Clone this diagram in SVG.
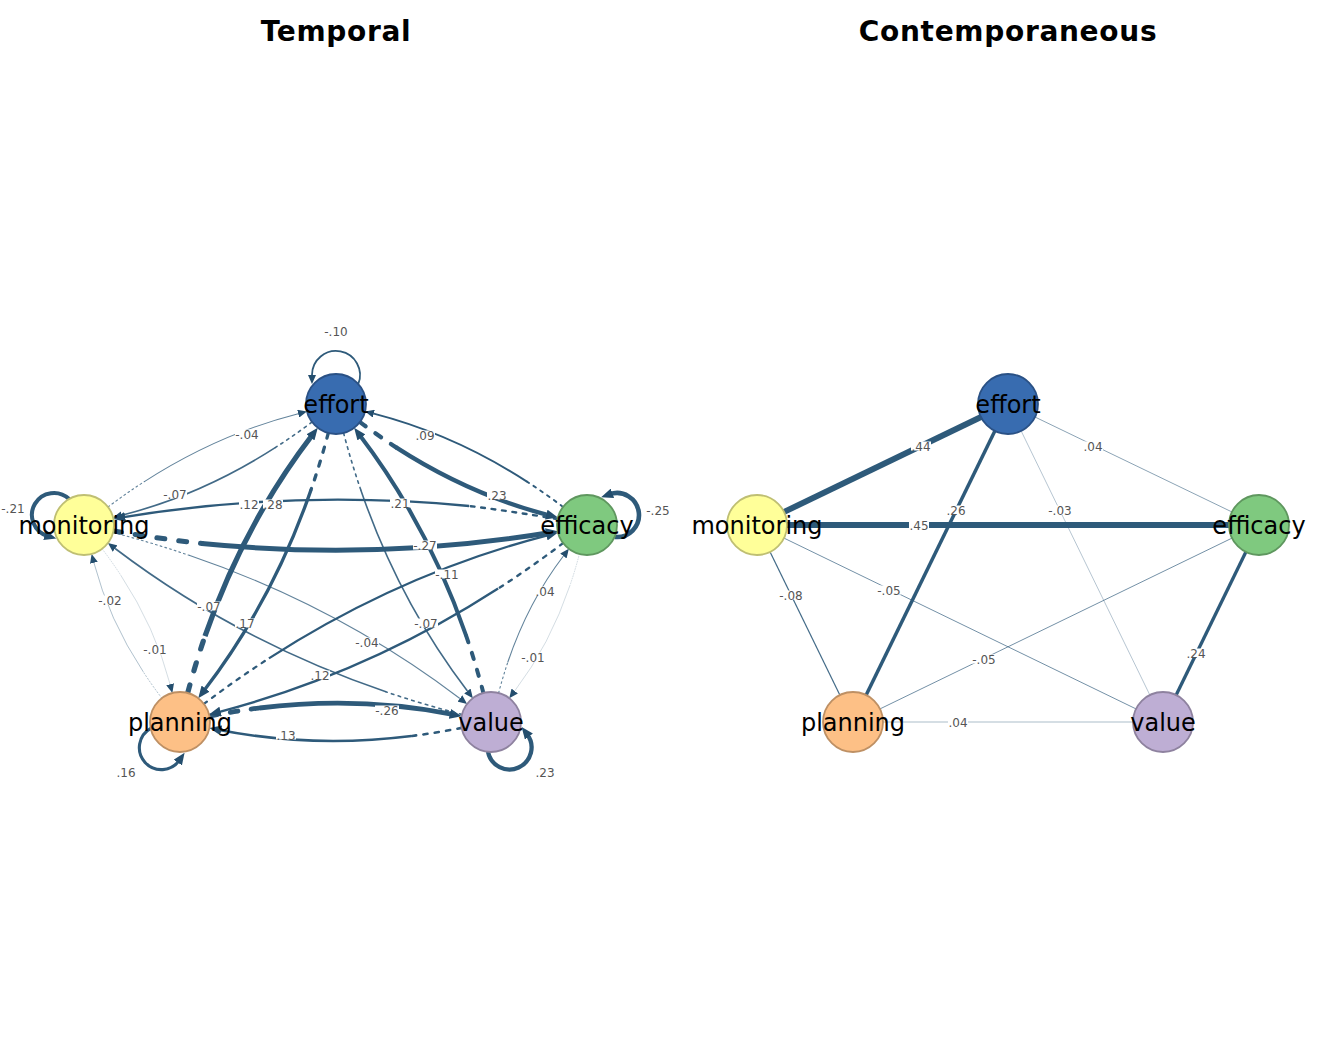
<svg xmlns="http://www.w3.org/2000/svg" width="1344" height="1056" viewBox="0 0 1344 1056">
<style>
.ttl{font-family:"DejaVu Sans",sans-serif;font-weight:bold;font-size:28px;letter-spacing:0.7px;text-anchor:middle;fill:#000}
.nl{font-family:"DejaVu Sans",sans-serif;font-size:24px;text-anchor:middle;fill:#000}
.lb{font-family:"DejaVu Sans",sans-serif;font-size:12px;text-anchor:middle;fill:#555}
.bg{fill:#fff}
.s{fill:none;stroke:#2E5A7A;stroke-linecap:butt}
.d{fill:none;stroke:#2E5A7A;stroke-linecap:round}
.u{stroke:#2E5A7A;fill:none}
.nd{stroke-width:1.8}
</style>
<defs>
<marker id="ah" markerUnits="userSpaceOnUse" markerWidth="12" markerHeight="10" viewBox="0 0 12 10" refX="3" refY="5" orient="auto"><path d="M0,0 L12,5 L0,10 z" fill="#244E6E"/></marker>
<marker id="as" markerUnits="userSpaceOnUse" markerWidth="9" markerHeight="8" viewBox="0 0 9 8" refX="0" refY="4" orient="auto"><path d="M0,0 L9,4 L0,8 z" fill="#244E6E"/></marker>
</defs>
<rect width="1344" height="1056" fill="#fff"/>
<text class="ttl" x="336" y="41">Temporal</text>
<text class="ttl" x="1008" y="41">Contemporaneous</text>

<g id="connectors">
<g id="e-mon-eff">
<path class="d" d="M108,507 Q126,493.4 144.4,481.6" stroke-width="1.1" stroke-opacity="0.75" stroke-dasharray="1.8 3.1"/>
<path class="s" d="M144.4,481.6 Q218,434.2 298.2,413.7" stroke-width="1.1" stroke-opacity="0.75" marker-end="url(#as)"/>
</g>
<g id="e-eff-mon">
<path class="d" d="M312,422 Q294,435.6 275.6,447.4" stroke-width="1.6" stroke-opacity="0.9" stroke-dasharray="2.6 4.5"/>
<path class="s" d="M275.6,447.4 Q202,494.8 121.8,515.3" stroke-width="1.6" stroke-opacity="0.9" marker-end="url(#as)"/>
</g>
<g id="e-efc-mon">
<path class="d" d="M557.6,519.1 Q513.2,511.5 469.1,506" stroke-width="2.4" stroke-dasharray="3.8 6.7"/>
<path class="s" d="M469.1,506 Q292.9,489 122.2,517.4" stroke-width="2.4" marker-end="url(#ah)"/>
</g>
<g id="e-mon-efc">
<path class="d" d="M113.4,530.9 Q157.8,538.5 201.9,543.5" stroke-width="5" stroke-dasharray="8 14"/>
<path class="s" d="M201.9,543.5 Q378.2,561 548.8,532.7" stroke-width="5" marker-end="url(#ah)"/>
</g>
<g id="e-efc-eff">
<path class="d" d="M563,506.9 Q545.2,493.4 526.9,481.6" stroke-width="1.9" stroke-dasharray="3 5.3"/>
<path class="s" d="M526.9,481.6 Q453.6,434.3 373.8,413.7" stroke-width="1.9" marker-end="url(#as)"/>
</g>
<g id="e-eff-efc">
<path class="d" d="M360,422.1 Q377.9,435.6 396.1,447.4" stroke-width="4.3" stroke-dasharray="6.9 12"/>
<path class="s" d="M396.1,447.4 Q469.4,494.7 549.2,515.3" stroke-width="4.3" marker-end="url(#ah)"/>
</g>
<g id="e-pla-eff">
<path class="d" d="M187.7,693 Q195.4,663.9 205,636.1" stroke-width="5.2" stroke-dasharray="8.3 14.6"/>
<path class="s" d="M205,636.1 Q243.4,524.9 312.3,435" stroke-width="5.2" marker-end="url(#ah)"/>
</g>
<g id="e-eff-pla">
<path class="d" d="M328.3,433 Q320.6,462.1 311,489.9" stroke-width="3.3" stroke-dasharray="5.3 9.2"/>
<path class="s" d="M311,489.9 Q272.6,601.1 203.7,691" stroke-width="3.3" marker-end="url(#ah)"/>
</g>
<g id="e-val-eff">
<path class="d" d="M483.4,693 Q475.8,663.9 466.3,636.1" stroke-width="4" stroke-dasharray="6.4 11.2"/>
<path class="s" d="M466.3,636.1 Q428.2,525 359.6,435" stroke-width="4" marker-end="url(#ah)"/>
</g>
<g id="e-eff-val">
<path class="d" d="M343.6,433 Q351.2,462.1 360.8,489.9" stroke-width="1.6" stroke-opacity="0.9" stroke-dasharray="2.6 4.5"/>
<path class="s" d="M360.8,489.9 Q398.8,601 467.4,691" stroke-width="1.6" stroke-opacity="0.9" marker-end="url(#as)"/>
</g>
<g id="e-pla-mon">
<path class="d" d="M161.8,698.1 Q151.9,685.1 143.3,671.9" stroke-width="0.75" stroke-opacity="0.5" stroke-dasharray="1.2 2.1"/>
<path class="s" d="M143.3,671.9 Q108.6,619 93.9,562.7" stroke-width="0.75" stroke-opacity="0.5" marker-end="url(#as)"/>
</g>
<g id="e-mon-pla">
<path class="d" d="M102.2,548.9 Q112.1,561.9 120.7,575.1" stroke-width="0.6" stroke-opacity="0.35" stroke-dasharray="0.9 1.6"/>
<path class="s" d="M120.7,575.1 Q155.4,628 170.1,684.3" stroke-width="0.6" stroke-opacity="0.35" marker-end="url(#as)"/>
</g>
<g id="e-val-efc">
<path class="d" d="M498.6,693 Q502.8,677.2 507.8,662.2" stroke-width="1.1" stroke-opacity="0.75" stroke-dasharray="1.8 3.1"/>
<path class="s" d="M507.8,662.2 Q528.1,602.3 563.4,556" stroke-width="1.1" stroke-opacity="0.75" marker-end="url(#as)"/>
</g>
<g id="e-efc-val">
<path class="d" d="M579.4,554 Q575.3,569.8 570.2,584.8" stroke-width="0.6" stroke-opacity="0.35" stroke-dasharray="0.9 1.6"/>
<path class="s" d="M570.2,584.8 Q549.9,644.7 514.7,691" stroke-width="0.6" stroke-opacity="0.35" marker-end="url(#as)"/>
</g>
<g id="e-pla-val">
<path class="d" d="M209.4,716.1 Q234.6,711.1 259.5,708" stroke-width="4.8" stroke-dasharray="7.7 13.4"/>
<path class="s" d="M259.5,708 Q359,695.6 452.8,714.4" stroke-width="4.8" marker-end="url(#ah)"/>
</g>
<g id="e-val-pla">
<path class="d" d="M461.6,727.9 Q436.4,732.9 411.5,736" stroke-width="2.6" stroke-dasharray="4.2 7.3"/>
<path class="s" d="M411.5,736 Q312.1,748.4 218.2,729.7" stroke-width="2.6" marker-end="url(#ah)"/>
</g>
<g id="e-mon-val">
<path class="d" d="M113,532.5 Q151.9,542.6 189.1,555.3" stroke-width="1.1" stroke-opacity="0.75" stroke-dasharray="1.8 3.1"/>
<path class="s" d="M189.1,555.3 Q337.8,605.9 459.9,698.5" stroke-width="1.1" stroke-opacity="0.75" marker-end="url(#as)"/>
</g>
<g id="e-val-mon">
<path class="d" d="M462,714.5 Q423.1,704.4 385.9,691.8" stroke-width="1.6" stroke-opacity="0.9" stroke-dasharray="2.6 4.5"/>
<path class="s" d="M385.9,691.8 Q237.2,641.1 115.1,548.5" stroke-width="1.6" stroke-opacity="0.9" marker-end="url(#as)"/>
</g>
<g id="e-efc-pla">
<path class="d" d="M563.1,543.1 Q531.1,567.3 498.1,588.6" stroke-width="2.4" stroke-dasharray="3.8 6.7"/>
<path class="s" d="M498.1,588.6 Q366.1,673.8 217.7,712.3" stroke-width="2.4" marker-end="url(#ah)"/>
</g>
<g id="e-pla-efc">
<path class="d" d="M203.9,703.9 Q235.9,679.7 268.9,658.4" stroke-width="2.3" stroke-dasharray="3.7 6.4"/>
<path class="s" d="M268.9,658.4 Q400.9,573.2 549.3,534.8" stroke-width="2.3" marker-end="url(#ah)"/>
</g>
<path class="u" d="M358.3,383.9 A24,24 0 1 0 312,375.1" stroke-width="1.8" marker-end="url(#as)"/>
<path class="u" d="M69.1,499 A22,22 0 1 0 47.6,536" stroke-width="4" marker-end="url(#ah)"/>
<path class="u" d="M614.6,536.9 A22,22 0 1 0 609.6,494.3" stroke-width="4.6" marker-end="url(#ah)"/>
<path class="u" d="M150.7,728.4 A22,22 0 1 0 179.5,760.1" stroke-width="3.1" marker-end="url(#ah)"/>
<path class="u" d="M488,751.9 A22,22 0 1 0 527.1,734.2" stroke-width="4.3" marker-end="url(#ah)"/>

<line class="u" x1="1008" y1="404" x2="757" y2="525" stroke-width="5.9"/>
<line class="u" x1="757" y1="525" x2="1259" y2="525" stroke-width="6"/>
<line class="u" x1="1008" y1="404" x2="853" y2="722" stroke-width="3.5"/>
<line class="u" x1="1259" y1="525" x2="1163" y2="722" stroke-width="3.3"/>
<line class="u" x1="1008" y1="404" x2="1259" y2="525" stroke-width="0.8" stroke-opacity="0.7"/>
<line class="u" x1="1008" y1="404" x2="1163" y2="722" stroke-width="0.7" stroke-opacity="0.5"/>
<line class="u" x1="757" y1="525" x2="853" y2="722" stroke-width="1.2" stroke-opacity="0.9"/>
<line class="u" x1="757" y1="525" x2="1163" y2="722" stroke-width="0.9" stroke-opacity="0.75"/>
<line class="u" x1="1259" y1="525" x2="853" y2="722" stroke-width="0.9" stroke-opacity="0.75"/>
<line class="u" x1="853" y1="722" x2="1163" y2="722" stroke-width="0.8" stroke-opacity="0.5"/>

<g id="edge-labels">
<rect class="bg" x="324" y="326.5" width="24" height="9"/><text class="lb" x="336" y="335.5">-.10</text>
<rect class="bg" x="1" y="503.5" width="24" height="9"/><text class="lb" x="13" y="512.5">-.21</text>
<rect class="bg" x="646" y="505.5" width="24" height="9"/><text class="lb" x="658" y="514.5">-.25</text>
<rect class="bg" x="116" y="767.5" width="20" height="9"/><text class="lb" x="126" y="776.5">.16</text>
<rect class="bg" x="535" y="767.5" width="20" height="9"/><text class="lb" x="545" y="776.5">.23</text>
<rect class="bg" x="235" y="429.5" width="24" height="9"/><text class="lb" x="247" y="438.5">-.04</text>
<rect class="bg" x="163" y="489.5" width="24" height="9"/><text class="lb" x="175" y="498.5">-.07</text>
<rect class="bg" x="239" y="499.5" width="20" height="9"/><text class="lb" x="249" y="508.5">.12</text>
<rect class="bg" x="263" y="499.5" width="20" height="9"/><text class="lb" x="273" y="508.5">.28</text>
<rect class="bg" x="415" y="430.5" width="20" height="9"/><text class="lb" x="425" y="439.5">.09</text>
<rect class="bg" x="487" y="490.5" width="20" height="9"/><text class="lb" x="497" y="499.5">.23</text>
<rect class="bg" x="390" y="498.5" width="20" height="9"/><text class="lb" x="400" y="507.5">.21</text>
<rect class="bg" x="413" y="540.5" width="24" height="9"/><text class="lb" x="425" y="549.5">-.27</text>
<rect class="bg" x="435" y="569.5" width="24" height="9"/><text class="lb" x="447" y="578.5">-.11</text>
<rect class="bg" x="197" y="601.5" width="24" height="9"/><text class="lb" x="209" y="610.5">-.07</text>
<rect class="bg" x="235" y="618.5" width="20" height="9"/><text class="lb" x="245" y="627.5">.17</text>
<rect class="bg" x="355" y="637.5" width="24" height="9"/><text class="lb" x="367" y="646.5">-.04</text>
<rect class="bg" x="414" y="618.5" width="24" height="9"/><text class="lb" x="426" y="627.5">-.07</text>
<rect class="bg" x="310" y="670.5" width="20" height="9"/><text class="lb" x="320" y="679.5">.12</text>
<rect class="bg" x="535" y="586.5" width="20" height="9"/><text class="lb" x="545" y="595.5">.04</text>
<rect class="bg" x="521" y="652.5" width="24" height="9"/><text class="lb" x="533" y="661.5">-.01</text>
<rect class="bg" x="98" y="595.5" width="24" height="9"/><text class="lb" x="110" y="604.5">-.02</text>
<rect class="bg" x="143" y="644.5" width="24" height="9"/><text class="lb" x="155" y="653.5">-.01</text>
<rect class="bg" x="375" y="705.5" width="24" height="9"/><text class="lb" x="387" y="714.5">-.26</text>
<rect class="bg" x="276" y="730.5" width="20" height="9"/><text class="lb" x="286" y="739.5">.13</text>
<rect class="bg" x="911" y="441.5" width="20" height="9"/><text class="lb" x="921" y="450.5">.44</text>
<rect class="bg" x="1083" y="441.5" width="20" height="9"/><text class="lb" x="1093" y="450.5">.04</text>
<rect class="bg" x="946" y="505.5" width="20" height="9"/><text class="lb" x="956" y="514.5">.26</text>
<rect class="bg" x="1048" y="505.5" width="24" height="9"/><text class="lb" x="1060" y="514.5">-.03</text>
<rect class="bg" x="909" y="520.5" width="20" height="9"/><text class="lb" x="919" y="529.5">.45</text>
<rect class="bg" x="779" y="590.5" width="24" height="9"/><text class="lb" x="791" y="599.5">-.08</text>
<rect class="bg" x="877" y="585.5" width="24" height="9"/><text class="lb" x="889" y="594.5">-.05</text>
<rect class="bg" x="1186" y="648.5" width="20" height="9"/><text class="lb" x="1196" y="657.5">.24</text>
<rect class="bg" x="972" y="654.5" width="24" height="9"/><text class="lb" x="984" y="663.5">-.05</text>
<rect class="bg" x="948" y="717.5" width="20" height="9"/><text class="lb" x="958" y="726.5">.04</text>
</g>
</g>

<g id="t-effort"><circle class="nd" cx="336" cy="404" r="30" fill="#386CB0" stroke="#2A5185"/><text class="nl" x="336" y="412.5">effort</text></g>
<g id="t-monitoring"><circle class="nd" cx="84" cy="525" r="30" fill="#FFFF99" stroke="#BFBF73"/><text class="nl" x="84" y="533.5">monitoring</text></g>
<g id="t-efficacy"><circle class="nd" cx="587" cy="525" r="30" fill="#7FC97F" stroke="#5F975F"/><text class="nl" x="587" y="533.5">efficacy</text></g>
<g id="t-planning"><circle class="nd" cx="180" cy="722" r="30" fill="#FDC086" stroke="#BE9064"/><text class="nl" x="180" y="730.5">planning</text></g>
<g id="t-value"><circle class="nd" cx="491" cy="722" r="30" fill="#BEAED4" stroke="#8E829F"/><text class="nl" x="491" y="730.5">value</text></g>
<g id="c-effort"><circle class="nd" cx="1008" cy="404" r="30" fill="#386CB0" stroke="#2A5185"/><text class="nl" x="1008" y="412.5">effort</text></g>
<g id="c-monitoring"><circle class="nd" cx="757" cy="525" r="30" fill="#FFFF99" stroke="#BFBF73"/><text class="nl" x="757" y="533.5">monitoring</text></g>
<g id="c-efficacy"><circle class="nd" cx="1259" cy="525" r="30" fill="#7FC97F" stroke="#5F975F"/><text class="nl" x="1259" y="533.5">efficacy</text></g>
<g id="c-planning"><circle class="nd" cx="853" cy="722" r="30" fill="#FDC086" stroke="#BE9064"/><text class="nl" x="853" y="730.5">planning</text></g>
<g id="c-value"><circle class="nd" cx="1163" cy="722" r="30" fill="#BEAED4" stroke="#8E829F"/><text class="nl" x="1163" y="730.5">value</text></g>
</svg>
